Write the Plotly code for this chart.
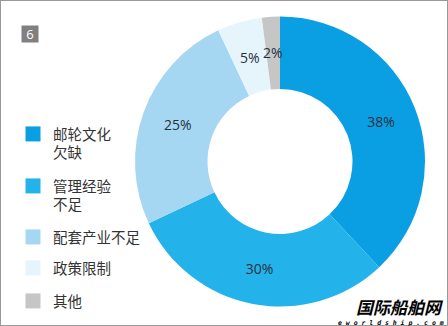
import math
import plotly.graph_objects as go

categories = ["邮轮文化<br>欠缺", "管理经验<br>不足", "配套产业不足", "政策限制", "其他"]
values = [38, 30, 25, 5, 2]
colors = ["#0A9FE3", "#23B3EA", "#A6D7F2", "#E6F4FC", "#C6C6C6"]

W, H = 448, 326
dom_x = [135 / W, 425 / W]
dom_y = [1 - 307 / H, 1 - 16 / H]
hole = 0.5

fig = go.Figure()
# big slices labelled by plotly, small ones by annotations computed from values
tt = ["%{value}%" if v >= 10 else "" for v in values]
fig.add_trace(go.Pie(
    labels=categories, values=values, hole=hole, sort=False,
    direction="clockwise", rotation=0, showlegend=False,
    marker=dict(colors=colors, line=dict(width=0)),
    texttemplate=tt, textposition="inside",
    insidetextorientation="horizontal",
    textfont=dict(family="Open Sans, Noto Sans CJK SC", size=14, color="#26313d"),
    hoverinfo="label+percent",
    domain=dict(x=dom_x, y=dom_y),
))

# legend: one legend per category so spacing can match
legend_tops = [118, 170, 221, 252, 285]
layout_legends = {}
for i, (cat, col) in enumerate(zip(categories, colors)):
    key = "legend" if i == 0 else f"legend{i+1}"
    fig.add_trace(go.Scatter(
        x=[None], y=[None], mode="markers", name=cat, legend=key,
        marker=dict(symbol="square", size=15, color=col), showlegend=True,
    ))
    layout_legends[key] = dict(
        x=13 / W, y=1 - legend_tops[i] / H, xanchor="left", yanchor="top",
        font=dict(family="Noto Sans CJK SC", size=14.5, color="#333333"),
        valign="top", itemwidth=30, bgcolor="rgba(0,0,0,0)",
    )

# annotations for small slice labels (positions from values)
cx = (dom_x[0] + dom_x[1]) / 2
cy = (dom_y[0] + dom_y[1]) / 2
R = min((dom_x[1] - dom_x[0]) * W, (dom_y[1] - dom_y[0]) * H) / 2
rmid = R * (1 + hole) / 2
total = sum(values)
annotations = []
cum = 0
for v in values:
    mid = (cum + v / 2) / total * 2 * math.pi
    cum += v
    if v >= 10:
        continue
    px = cx * W + rmid * math.sin(mid)
    py = cy * H + rmid * math.cos(mid)
    annotations.append(dict(
        text=f"{v}%", xref="paper", yref="paper", x=px / W, y=py / H,
        xanchor="center", yanchor="middle", showarrow=False,
        font=dict(family="Open Sans, Noto Sans CJK SC", size=14, color="#26313d")))

annotations += [
    dict(text="6", xref="paper", yref="paper", x=30 / W, y=1 - 34 / H,
         xanchor="center", yanchor="middle",
         showarrow=False, bgcolor="#808080",
         font=dict(color="white", size=13, family="Open Sans"),
         borderpad=0, width=16, height=16),
    dict(text="<b><i>国际船舶网</i></b>", xref="paper", yref="paper",
         x=446 / W, y=1 - 306.5 / H, xanchor="right", yanchor="middle",
         showarrow=False, font=dict(color="black", size=17, family="Noto Sans CJK SC")),
    dict(text="<b><i>e w o r l d s h i p . c o m</i></b>", xref="paper", yref="paper",
         x=446 / W, y=1 - 322.5 / H, xanchor="right", yanchor="middle",
         showarrow=False, font=dict(color="black", size=6.5, family="DejaVu Sans Mono")),
]

fig.update_layout(
    width=W, height=H, margin=dict(l=0, r=0, t=0, b=0),
    paper_bgcolor="white", plot_bgcolor="rgba(0,0,0,0)",
    uniformtext=dict(minsize=14, mode="show"),
    xaxis=dict(visible=False), yaxis=dict(visible=False),
    shapes=[dict(type="rect", xref="paper", yref="paper", x0=0, y0=0, x1=1, y1=1,
                 line=dict(color="#9a9a9a", width=2))],
    annotations=annotations,
    **layout_legends,
)
fig.write_html("out.html")
